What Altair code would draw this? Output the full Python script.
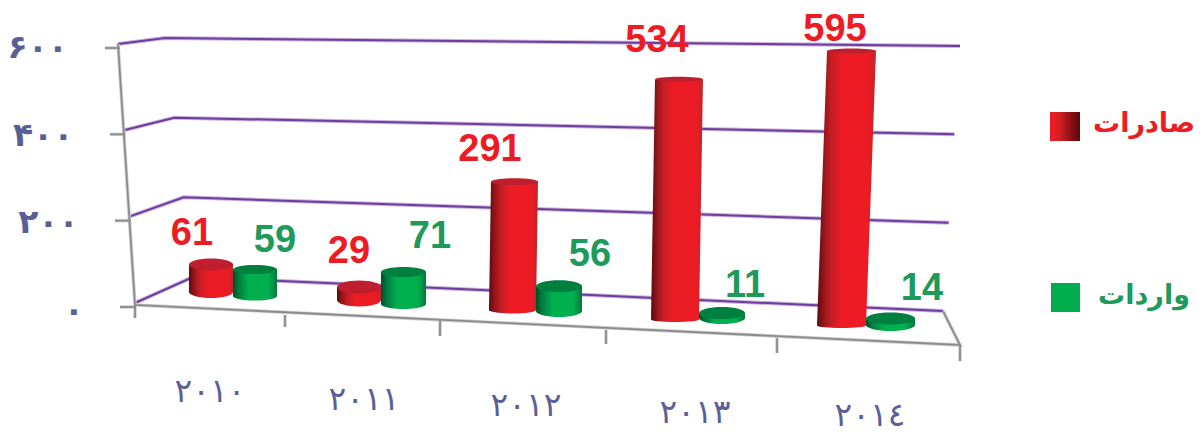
import altair as alt
import pandas as pd

# ---------- data ----------
YEARS = ["۲۰۱۰", "۲۰۱۱", "۲۰۱۲", "۲۰۱۳", "۲۰۱٤"]
EXPORTS = [61, 29, 291, 534, 595]
IMPORTS = [59, 71, 56, 11, 14]
Y_TICKS = [0, 200, 400, 600]
Y_TICK_TEXT = ["۰", "۲۰۰", "۴۰۰", "۶۰۰"]
SERIES_NAMES = ["صادرات", "واردات"]

# ---------- perspective layout (picture pixels) ----------
K = 0.45                       # pixels per value unit
Y0 = 303.0
PERSP = [1, 1, .98, 1, 1.025]  # depth foreshortening per category
PAIR_X = [233, 381, 536, 699, 866]
RED_W = [44, 44, 47, 48, 49]
GREEN_W = [44, 45, 46, 46, 49]
RED_BASE = [292, 300, 310, 319.5, 325.5]
GREEN_BASE = [296, 304, 311, 318, 325]
RED_RY = [6, 6.5, 3.5, 2.5, 2.5]
GREEN_RY = [4.5, 5, 6, 6, 6]
RED_LEAN = [0, 0, 2, 4, 10]
GREEN_LEAN = [0, 0, 0, 0, 0]
RED_LABEL = [(192, 245), (349, 263), (490, 161), (657, 52), (835, 41)]
GREEN_LABEL = [(275, 252), (430, 248), (590, 266), (745, 297), (922, 300)]
YEAR_LABEL = [(210, 392), (364, 400), (526, 406), (695, 413), (870, 416)]
X_TICKS = [(135, 305, 318), (285, 315, 327), (440, 320, 336), (606, 330, 344), (777, 338, 353), (960, 345, 361)]
WALL_L = ((135, 303), (118, 44))
WALL_B = ((193, 277), (165, 38))
WALL_R = ((943, 311), (960, 46))
TICK_TEXT = ((84, 311), (68, 48))
TICK_MARK = ((120, 136, 307), (105, 120, 48))

PURPLE, PURPLE_SOFT = "#6f3c9f", "#c9b4da"
GRAY, GRAY_SOFT = "#8c8c8c", "#d0d0d0"
RED, GREEN = "#ed1c24", "#1e9a5b"
INK = "#5b5f97"


def u(py):
    return (Y0 - py) / K


def lerp(a, b, t):
    return a + (b - a) * t


sx = alt.Scale(domain=[8, 1196], range=[0, 1188], nice=False, zero=False)
sy = alt.Scale(domain=[u(437), u(8)], range=[429, 0], nice=False, zero=False)
X = alt.X("x:Q", scale=sx, axis=None)
Y = alt.Y("y:Q", scale=sy, axis=None)


def grad(stops):
    return alt.Gradient(
        gradient="linear", x1=0, x2=1, y1=0, y2=0,
        stops=[alt.GradientStop(offset=o, color=c) for o, c in stops],
    )


RED_G = grad([(0, "#5a0a0e"), (.1, "#8f1418"), (.24, "#c41e25"), (.42, RED), (.86, RED), (1, "#c2252c")])
GREEN_G = grad([(0, "#004d25"), (.12, "#007a3d"), (.36, "#00b04f"), (.8, "#00b04f"), (1, "#007a3d")])
LEG_G = grad([(0, RED), (.3, "#d81f26"), (.7, "#8a1216"), (1, "#5a0a0e")])


def polylines(paths, color, width):
    rows = []
    for pid, pts in enumerate(paths):
        for i, (px, py) in enumerate(pts):
            rows.append({"id": pid, "i": i, "x": px, "y": u(py)})
    return alt.Chart(pd.DataFrame(rows)).mark_line(color=color, strokeWidth=width).encode(
        x=X, y=Y, detail="id:N", order="i:Q")


def ellipse(w, ry):
    r = 2 * ry / w
    c = .5523
    return (f"M-1,0C-1,{-r*c},{-c},{-r},0,{-r}C{c},{-r},1,{-r*c},1,0"
            f"C1,{r*c},{c},{r},0,{r}C{-c},{r},-1,{r*c},-1,0Z")


def cylinders(values, centers, widths, bases, rys, leans, body, cap):
    area, low, top = [], [], []
    for n, v in enumerate(values):
        w, b, ry, c = widths[n], bases[n], rys[n], centers[n]
        yb = u(b)
        yt = yb + v * PERSP[n]
        ct = c + leans[n]
        area += [{"id": n, "x": c - w / 2, "x2": c + w / 2, "y": yb},
                 {"id": n, "x": ct - w / 2, "x2": ct + w / 2, "y": yt}]
        low.append({"x": c, "y": yb, "shape": ellipse(w, ry), "size": w * w})
        top.append({"x": ct, "y": yt, "shape": ellipse(w, ry), "size": w * w})

    def pts(rows, fill):
        return alt.Chart(pd.DataFrame(rows)).mark_point(
            filled=True, fill=fill, opacity=1, strokeWidth=0).encode(
            x=X, y=Y,
            shape=alt.Shape("shape:N", scale=None),
            size=alt.Size("size:Q", scale=None),
        )
    a = alt.Chart(pd.DataFrame(area)).mark_area(orient="horizontal", fill=body).encode(
        x=X, x2="x2:Q", y=Y, detail="id:N")
    return [pts(low, body), a, pts(top, cap)]


def texts(rows, size, font, bold=False, align="center", baseline="alphabetic"):
    return alt.Chart(pd.DataFrame(rows)).mark_text(
        font=font, fontSize=size, fontWeight="bold" if bold else "normal",
        align=align, baseline=baseline).encode(
        x=X, y=Y, text="t:N", color=alt.Color("c:N", scale=None))


# ---------- walls ----------
grid_paths = []
for v in Y_TICKS:
    t = v / 600
    grid_paths.append([tuple(lerp(a, b, t) for a, b in zip(*WALL_L)),
                       tuple(lerp(a, b, t) for a, b in zip(*WALL_B)),
                       tuple(lerp(a, b, t) for a, b in zip(*WALL_R))])

axis_paths = [[WALL_L[1], (135, 305), (960, 345), WALL_R[0]]]
for x0, y0, y1 in X_TICKS:
    axis_paths.append([(x0, y0), (x0, y1)])
for v in Y_TICKS:
    t = v / 600
    axis_paths.append([(lerp(TICK_MARK[0][0], TICK_MARK[1][0], t), lerp(TICK_MARK[0][2], TICK_MARK[1][2], t)),
                       (lerp(TICK_MARK[0][1], TICK_MARK[1][1], t), lerp(TICK_MARK[0][2], TICK_MARK[1][2], t))])

layers = [
    polylines(grid_paths, PURPLE_SOFT, 4),
    polylines(grid_paths, PURPLE, 2),
    polylines(axis_paths, GRAY_SOFT, 3.5),
    polylines(axis_paths, GRAY, 1.8),
]

# ---------- bars ----------
red_x = [c - w / 2 for c, w in zip(PAIR_X, RED_W)]
green_x = [c + w / 2 for c, w in zip(PAIR_X, GREEN_W)]
layers += cylinders(EXPORTS, red_x, RED_W, RED_BASE, RED_RY, RED_LEAN, RED_G, "#be1e2d")
layers += cylinders(IMPORTS, green_x, GREEN_W, GREEN_BASE, GREEN_RY, GREEN_LEAN, GREEN_G, "#007f3f")

# ---------- labels ----------
val_rows = [{"x": p[0], "y": u(p[1]), "t": str(v), "c": RED} for p, v in zip(RED_LABEL, EXPORTS)]
val_rows += [{"x": p[0], "y": u(p[1]), "t": str(v), "c": GREEN} for p, v in zip(GREEN_LABEL, IMPORTS)]
layers.append(texts(val_rows, 38, "Liberation Sans", bold=True))

year_rows = [{"x": p[0], "y": u(p[1]), "t": y, "c": INK} for p, y in zip(YEAR_LABEL, YEARS)]
layers.append(texts(year_rows, 33, "DejaVu Sans", baseline="middle"))

tick_rows = []
for v, s in zip(Y_TICKS, Y_TICK_TEXT):
    t = v / 600
    tick_rows.append({"x": lerp(TICK_TEXT[0][0], TICK_TEXT[1][0], t),
                      "y": u(lerp(TICK_TEXT[0][1], TICK_TEXT[1][1], t)), "t": s, "c": INK})
layers.append(texts(tick_rows, 33, "DejaVu Sans", bold=True, align="right", baseline="middle"))

# ---------- legend ----------
for box, fill in [((1050, 1080, 112, 141), LEG_G), ((1051, 1080, 283, 312), "#00ad4d")]:
    layers.append(alt.Chart(pd.DataFrame([{"x": box[0], "x2": box[1], "y": u(box[2]), "y2": u(box[3])}]))
                  .mark_rect(fill=fill).encode(x=X, x2="x2:Q", y=Y, y2="y2:Q"))
layers.append(texts([{"x": 1144, "y": u(124), "t": SERIES_NAMES[0], "c": RED},
                     {"x": 1144, "y": u(296), "t": SERIES_NAMES[1], "c": GREEN}],
                    27, "DejaVu Sans", bold=True, baseline="middle"))

chart = alt.layer(*layers).properties(
    width=1188, height=429, padding=0,
    autosize=alt.AutoSizeParams(type="none"),
    background="white",
).configure_view(stroke=None)

chart.save("out.html", embed_options={"renderer": "svg", "actions": False})
